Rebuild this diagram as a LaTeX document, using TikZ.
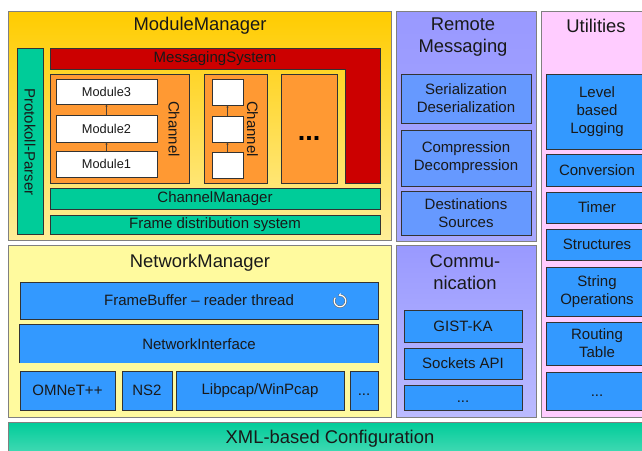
\documentclass[tikz,border=0pt]{standalone}
\usepackage{fontspec}
\setmainfont{Liberation Sans}
\usetikzlibrary{arrows.meta}

\definecolor{edge}{HTML}{333333}
\definecolor{outeredge}{HTML}{808080}
\definecolor{mmtop}{HTML}{FFCC00}
\definecolor{mmbot}{HTML}{FFEE99}
\definecolor{nmfill}{HTML}{FFFA9E}
\definecolor{rmfill}{HTML}{9999FF}
\definecolor{cmbot}{HTML}{BBBBFF}
\definecolor{utfill}{HTML}{FFCCFF}
\definecolor{teal}{HTML}{00CC99}
\definecolor{tealbot}{HTML}{55DDBB}
\definecolor{msred}{HTML}{CC0000}
\definecolor{chorange}{HTML}{FF9933}
\definecolor{blue1}{HTML}{3399FF}
\definecolor{blue2}{HTML}{6699FF}

% rectangle node given by its corners: [style]{name}{x1}{y1}{x2}{y2}{text}
\newcommand\blk[7][]{%
  \pgfmathsetmacro\blkw{#5-#3}%
  \pgfmathsetmacro\blkh{#6-#4}%
  \pgfmathsetmacro\blkx{(#3+#5)/2}%
  \pgfmathsetmacro\blky{(#4+#6)/2}%
  \node[#1, minimum width=\blkw pt, minimum height=\blkh pt] (#2) at (\blkx,\blky) {#7};%
}

\begin{document}
\begin{tikzpicture}[x=1pt,y=-1pt,
  box/.style={draw=edge, line width=0.8pt, inner sep=0pt, align=center,
    font=\fontsize{15}{18}\selectfont, text=black!90},
  outer/.style={draw=outeredge, line width=0.9pt, inner sep=0pt},
  ttl/.style={inner sep=0pt, align=center, font=\fontsize{18.4}{22}\selectfont, text=black!90},
  lbl/.style={inner sep=0pt, align=center, font=\fontsize{15}{18}\selectfont, text=black!90},
  modbox/.style={box, fill=white, font=\fontsize{12.8}{15}\selectfont},
  bluebox/.style={box, fill=blue1},
  rmbox/.style={box, fill=blue2},
  tealbox/.style={box, fill=teal},
  chbox/.style={box, fill=chorange},
  link/.style={draw=edge!80!brown, line width=0.5pt, -{Stealth[length=2.2pt,width=2.2pt]}},
]
\useasboundingbox (0,0) rectangle (642,450);
\clip (0,0) rectangle (642,450);
\fill[white] (0,0) rectangle (642,450);

% ---------- outer layers ----------
\blk[outer, top color=mmtop, bottom color=mmbot]{mm}{8}{11}{391}{240}{}
\blk[outer, fill=nmfill]{nm}{8}{245}{391}{417}{}
\blk[outer, top color=rmfill, bottom color=rmfill!85!white]{rm}{396}{11}{536}{241}{}
\blk[outer, top color=rmfill, bottom color=cmbot]{cm}{396}{245}{536}{417}{}
\blk[outer, fill=utfill]{ut}{541}{11}{652}{417}{}
\blk[outer, top color=teal, bottom color=tealbot]{xml}{8}{422}{652}{462}{}

\node[ttl] (mmt) at (200,26) {ModuleManager};
\node[ttl] (nmt) at (200,263) {NetworkManager};
\node[ttl] (rmt) at (463,37.5) {Remote\\Messaging};
\node[ttl] (cmt) at (465,272) {Commu-\\nication};
\node[ttl] (utt) at (596,26) {Utilities};
\node[ttl] (xmlt) at (330,439) {XML-based Configuration};

% ---------- ModuleManager ----------
\blk[tealbox]{pp}{17}{48}{43}{234}{}
\node[lbl, rotate=-90] (ppt) at (30,142) {Protokoll-Parser};

\draw[draw=edge, line width=0.8pt, fill=msred]
  (50,48) -- (380,48) -- (380,183) -- (345,183) -- (345,69) -- (50,69) -- cycle;
\node[lbl] (mst) at (215,59) {MessagingSystem};

\blk[chbox]{ch1}{50}{74}{189}{183}{}
\blk[modbox]{m3}{56}{79}{157}{104}{Module3}
\blk[modbox]{m2}{56}{115}{157}{142}{Module2}
\blk[modbox]{m1}{56}{151}{157}{177}{Module1}
\draw[link] (m1.north) -- (m2.south);
\draw[link] (m2.north) -- (m3.south);
\node[lbl, rotate=-90] (ch1t) at (174,129) {Channel};

\blk[chbox]{ch2}{204}{74}{267}{183}{}
\blk[modbox]{s3}{212}{79}{243}{105}{}
\blk[modbox]{s2}{212}{116}{243}{142}{}
\blk[modbox]{s1}{212}{152}{243}{178}{}
\draw[link] (s1.north) -- (s2.south);
\draw[link] (s2.north) -- (s3.south);
\node[lbl, rotate=-90] (ch2t) at (252.5,129) {Channel};

\blk[chbox]{ch3}{281}{74}{337}{183}{}
\node[inner sep=0pt, font=\fontsize{27}{30}\selectfont\bfseries] (ch3t) at (309,138.5) {...};

\blk[tealbox]{cmgr}{50}{188}{380}{209}{ChannelManager}
\blk[tealbox]{fds}{50}{215}{380}{234}{Frame distribution system}

% ---------- NetworkManager ----------
\blk[bluebox]{fb}{20}{282}{378}{319}{FrameBuffer -- reader thread}
% reader thread loop symbol
\coordinate (loop) at (340,301);
\draw[gray!70!black, line width=2.2pt] (loop) ++(215:5.8) arc[start angle=215, end angle=-105, radius=5.8];
\draw[white, line width=1.2pt, -{Stealth[length=2.8pt,width=3.6pt]}]
  (loop) ++(215:5.8) arc[start angle=215, end angle=-105, radius=5.8];

\blk[fill=blue1, inner sep=0pt, font=\fontsize{15}{18}\selectfont, text=black!90]{ni}{20}{325}{378}{363}{NetworkInterface}
\draw[edge, line width=0.8pt] (ni.south west) -- (ni.north west) -- (ni.north east) -- (ni.south east);

\blk[bluebox]{om}{20}{371}{115}{410}{OMNeT++}
\blk[bluebox]{ns}{122}{371}{172}{410}{NS2}
\blk[bluebox]{lp}{176}{371}{344}{410}{Libpcap/WinPcap}
\blk[bluebox]{nd}{350}{371}{378}{410}{\vphantom{A}...}

% ---------- Remote Messaging ----------
\blk[rmbox]{ser}{401}{74}{531}{123}{Serialization\\Deserialization}
\blk[rmbox]{cmp}{401}{130}{531}{186}{Compression\\Decompression}
\blk[rmbox]{dst}{401}{191}{531}{235}{Destinations\\Sources}

% ---------- Communication ----------
\blk[bluebox]{gist}{404}{310}{522}{342}{GIST-KA}
\blk[bluebox]{sock}{404}{348}{522}{379}{Sockets API}
\blk[bluebox]{cd}{404}{385}{522}{410}{\vphantom{A}...}

% ---------- Utilities ----------
\blk[bluebox]{log}{546}{74}{648}{149}{Level\\based\\Logging}
\blk[bluebox]{conv}{546}{154}{648}{186}{Conversion}
\blk[bluebox]{tim}{546}{192}{648}{223}{Timer}
\blk[bluebox]{str}{546}{229}{648}{260}{Structures}
\blk[bluebox]{sop}{546}{267}{648}{316}{String\\Operations}
\blk[bluebox]{rt}{546}{322}{648}{365}{Routing\\Table}
\blk[bluebox]{ud}{546}{372}{648}{410}{\vphantom{A}...}
\end{tikzpicture}
\end{document}
